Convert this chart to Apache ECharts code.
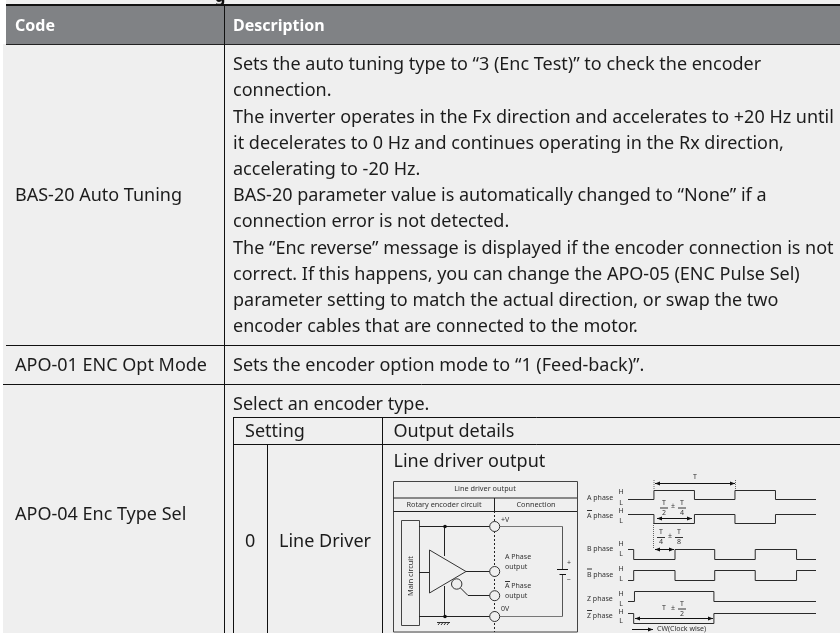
<!DOCTYPE html>
<html>
<head>
<meta charset="utf-8">
<style>html,body{margin:0;padding:0;background:#fff}#main{width:840px;height:633px}</style>
<script src="https://cdn.jsdelivr.net/npm/echarts@6/dist/echarts.min.js"></script>
</head>
<body>
<div id="main"></div>
<script>
var headerCells = ['Code', 'Description'];
var descriptionLines = [
  'Sets the auto tuning type to “3 (Enc Test)” to check the encoder',
  'connection.',
  'The inverter operates in the Fx direction and accelerates to +20 Hz until',
  'it decelerates to 0 Hz and continues operating in the Rx direction,',
  'accelerating to -20 Hz.',
  'BAS-20 parameter value is automatically changed to “None” if a',
  'connection error is not detected.',
  'The “Enc reverse” message is displayed if the encoder connection is not',
  'correct. If this happens, you can change the APO-05 (ENC Pulse Sel)',
  'parameter setting to match the actual direction, or swap the two',
  'encoder cables that are connected to the motor.'
];
var codeLabels = ['BAS-20 Auto Tuning', 'APO-01 ENC Opt Mode', 'APO-04 Enc Type Sel'];
var optModeText = 'Sets the encoder option mode to “1 (Feed-back)”.';
var typeIntro = 'Select an encoder type.';
var innerHeaders = ['Setting', 'Output details'];
var settingValue = '0';
var settingName = 'Line Driver';
var outputTitle = 'Line driver output';

// waveforms: [time in T, level 0=L 1=H]
var phaseNames = ['A phase', 'A phase', 'B phase', 'B phase', 'Z phase', 'Z phase'];
var phaseA = [[-0.32, 0], [0, 1], [0.5, 0], [1, 1], [1.5, 0], [2, 0]];
var phaseANot = [[-0.32, 1], [0, 0], [0.5, 1], [1, 0], [1.5, 1], [2, 1]];
var phaseB = [[-0.32, 1], [-0.25, 0], [0.26, 1], [0.75, 0], [1.25, 1], [1.76, 0], [2, 0]];
var phaseBNot = [[-0.32, 0], [-0.25, 1], [0.26, 0], [0.75, 1], [1.25, 0], [1.76, 1], [2, 1]];
var phaseZ = [[-0.32, 0], [-0.24, 1], [0.74, 0], [2, 0]];
var phaseZNot = [[-0.32, 1], [-0.25, 0], [0.74, 1], [2, 1]];

var bg = '#efefef';
var ink = '#111';
var wire = '#222';
var font = '"Noto Sans"';
var bodySize = 18;
var els = [];

function line(x1, y1, x2, y2, color, w, dash) {
  els.push({type: 'line', shape: {x1: x1, y1: y1, x2: x2, y2: y2},
    style: {stroke: color || ink, lineWidth: w || 1, lineDash: dash || null}});
}
function txt(x, y, s, size, opt) {
  opt = opt || {};
  els.push({type: 'text', x: x, y: y, rotation: opt.rotation || 0, style: {
    text: s, fill: opt.color || '#1c1c1c', font: (opt.weight || 'normal') + ' ' + size + 'px ' + font,
    textAlign: opt.align || 'left', textVerticalAlign: 'middle'
  }});
}
function rect(x, y, w, h, fill, stroke) {
  els.push({type: 'rect', shape: {x: x, y: y, width: w, height: h}, style: {fill: fill, stroke: stroke || null, lineWidth: 1}});
}
function circle(x, y, r) {
  els.push({type: 'circle', shape: {cx: x, cy: y, r: r}, style: {fill: bg, stroke: '#333', lineWidth: 1}});
}
function dot(x, y) {
  els.push({type: 'circle', shape: {cx: x, cy: y, r: 1.8}, style: {fill: '#111'}});
}
function arrowBoth(x1, x2, y) {
  line(x1, y, x2, y, '#111', 1);
  els.push({type: 'polygon', shape: {points: [[x1, y], [x1 + 5, y - 2], [x1 + 5, y + 2]]}, style: {fill: '#111'}});
  els.push({type: 'polygon', shape: {points: [[x2, y], [x2 - 5, y - 2], [x2 - 5, y + 2]]}, style: {fill: '#111'}});
}
function frac(x, yTop, bottom) {
  txt(x, yTop, 'T', 7, {align: 'center', color: '#333'});
  line(x - 4, yTop + 5.5, x + 4, yTop + 5.5, '#333', 1);
  txt(x, yTop + 10, bottom, 7, {align: 'center', color: '#333'});
}

// page + table
rect(3, 0, 837, 633, bg);
rect(0, 0, 6, 44, '#fff');
rect(6, 5, 834, 39, '#808285');
txt(220, -3, 'g', 17, {weight: 'bold', align: 'center', color: '#111'});
line(6, 5, 840, 5, '#111', 2);
line(6, 44.5, 840, 44.5, '#222', 1);
line(224.5, 5, 224.5, 633, ink, 1);
line(6, 345.5, 840, 345.5, ink, 1);
line(3, 384.5, 840, 384.5, ink, 1);
txt(15, 26, headerCells[0], 16, {weight: 'bold', color: '#fff'});
txt(233, 26, headerCells[1], 16, {weight: 'bold', color: '#fff'});

descriptionLines.forEach(function (s, i) {
  txt(233, 65 + i * 26.2, s, bodySize);
});
txt(15, 196, codeLabels[0], bodySize);
txt(15, 366, codeLabels[1], bodySize);
txt(15, 515, codeLabels[2], bodySize);
txt(233, 366, optModeText, bodySize);
txt(233, 404.5, typeIntro, bodySize);

// inner table
line(233.5, 417.5, 840, 417.5, ink, 1);
line(233.5, 444.5, 840, 444.5, ink, 1);
line(233.5, 417, 233.5, 633, ink, 1);
line(267.5, 444, 267.5, 633, ink, 1);
line(382.5, 417, 382.5, 633, ink, 1);
txt(245, 431.5, innerHeaders[0], bodySize);
txt(393.5, 431.5, innerHeaders[1], bodySize);
txt(393.5, 462, outputTitle, bodySize);
txt(245, 542, settingValue, bodySize);
txt(279, 542, settingName, bodySize);

// circuit box
rect(393.5, 481.5, 184, 150.5, bg, '#444');
line(393.5, 498, 577, 498, '#222', 1);
line(393.5, 511.5, 577, 511.5, '#222', 1);
line(494.5, 498, 494.5, 511, '#222', 1);
txt(485, 489, outputTitle, 7.3, {align: 'center', color: '#333'});
txt(444, 505, 'Rotary encoder circuit', 7.3, {align: 'center', color: '#333'});
txt(536, 505, 'Connection', 7.3, {align: 'center', color: '#333'});
rect(401.5, 520.5, 18, 105, bg, '#444');
txt(411, 576, 'Main circuit', 7.3, {align: 'center', rotation: Math.PI / 2, color: '#333'});
line(494.5, 511, 494.5, 632, '#222', 1, [2, 2]);
line(419, 526.5, 490, 526.5, wire, 1);
line(500, 526.5, 562.5, 526.5, '#777', 1);
line(562.5, 526.5, 562.5, 569, '#555', 1);
line(562.5, 574, 562.5, 616.5, '#555', 1);
line(500, 616.5, 562.5, 616.5, '#777', 1);
line(557, 569.5, 568, 569.5, '#111', 1);
line(559.5, 574.5, 566, 574.5, '#111', 1);
txt(569, 563, '+', 7, {align: 'center', color: '#333'});
txt(569, 580, '−', 7, {align: 'center', color: '#333'});
line(444.5, 526.5, 444.5, 556, wire, 1);
line(444.5, 586, 444.5, 616.5, wire, 1);
line(419, 572.5, 429, 572.5, wire, 1);
line(419, 616.5, 490, 616.5, wire, 1);
line(466, 571.5, 490, 571.5, wire, 1);
line(460.5, 588, 468, 595.5, wire, 1);
line(468, 595.5, 490, 595.5, wire, 1);
els.push({type: 'polygon', shape: {points: [[429.5, 550], [429.5, 593], [466, 571.5]]}, style: {fill: bg, stroke: '#333', lineWidth: 1}});
circle(456.7, 584, 5.2);
circle(494.7, 526.5, 5);
circle(494.7, 571.5, 5);
circle(494.7, 595.7, 5);
circle(494.7, 616.5, 5);
dot(445, 526.5);
dot(445, 616.5);
line(437, 622.5, 450, 622.5, '#333', 1);
[438, 441, 444, 447].forEach(function (x) { line(x + 2, 622.5, x, 625, '#333', 1); });
txt(501, 520, '+V', 7, {color: '#333'});
txt(505, 556.5, 'A Phase', 7, {color: '#333'});
txt(505, 566.5, 'output', 7, {color: '#333'});
txt(505, 586, 'A Phase', 7, {color: '#333'});
line(505, 581.5, 510, 581.5, '#333', 1);
txt(505, 596, 'output', 7, {color: '#333'});
txt(501, 609, '0V', 7, {color: '#333'});

// phase labels
var labelY = [498, 516, 549, 574.5, 599, 616];
var hY = [492, 511, 544, 569, 594, 612];
var lY = [503, 521, 554, 579, 604, 621];
phaseNames.forEach(function (n, i) {
  txt(587, labelY[i], n, 7, {color: '#333'});
  txt(621, hY[i], 'H', 7, {align: 'center', color: '#333'});
  txt(621, lY[i], 'L', 7, {align: 'center', color: '#333'});
  if (i % 2) line(587, labelY[i] - 5.5, 592, labelY[i] - 5.5, '#333', 1);
});

// timing annotations
txt(695, 476.5, 'T', 7, {align: 'center', color: '#333'});
line(654, 480, 654, 490, '#666', 1, [1, 1]);
line(735.5, 480, 735.5, 490, '#666', 1, [1, 1]);
arrowBoth(655, 735, 483.5);
frac(664, 502.5, '2');
txt(673, 506, '±', 7, {align: 'center', color: '#333'});
frac(682, 502.5, '4');
arrowBoth(657, 692, 518.5);
line(653.5, 523, 653.5, 549, '#666', 1, [1, 1]);
frac(661, 532, '4');
txt(670, 536, '±', 7, {align: 'center', color: '#333'});
frac(679, 532, '8');
arrowBoth(655, 674, 549.5);
txt(664, 608, 'T', 7, {align: 'center', color: '#333'});
txt(673, 608, '±', 7, {align: 'center', color: '#333'});
frac(682, 603.5, '2');
arrowBoth(635, 713, 618.5);
line(632, 629.5, 653, 629.5, '#111', 1);
els.push({type: 'polygon', shape: {points: [[653, 629.5], [648, 627.5], [648, 631.5]]}, style: {fill: '#111'}});
txt(657, 628.5, 'CW(Clock wise)', 7, {color: '#333'});

// one small grid per waveform, level scale 0..1
var waveTops = [490, 514, 549, 570, 591, 613];
var waveHeights = [9, 9, 10, 10, 10, 10];
var waves = [phaseA, phaseANot, phaseB, phaseBNot, phaseZ, phaseZNot];
var grids = [], xAxes = [], yAxes = [], series = [];
waves.forEach(function (w, i) {
  grids.push({left: 628, width: 188, top: waveTops[i] + 0.5, height: waveHeights[i], containLabel: false});
  xAxes.push({type: 'value', gridIndex: i, min: -0.32, max: 2, show: false});
  yAxes.push({type: 'value', gridIndex: i, min: 0, max: 1, show: false});
  series.push({type: 'line', xAxisIndex: i, yAxisIndex: i, step: 'end', data: w, symbol: 'none', clip: false,
    silent: true, lineStyle: {color: '#2a2a2a', width: 1}, z: 10, animation: false});
});

var chart = echarts.init(document.getElementById('main'));
chart.setOption({
  animation: false,
  backgroundColor: '#fff',
  grid: grids,
  xAxis: xAxes,
  yAxis: yAxes,
  series: series,
  graphic: {elements: els}
});
</script>
</body>
</html>
